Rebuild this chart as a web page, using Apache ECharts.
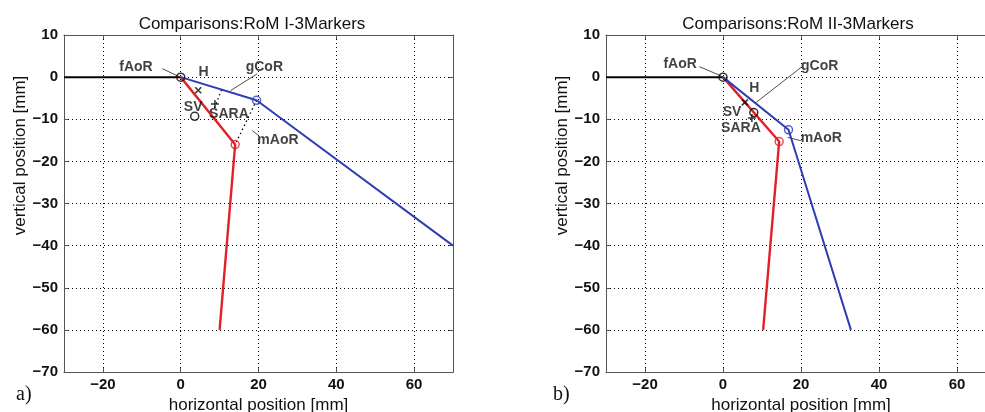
<!DOCTYPE html>
<html>
<head>
<meta charset="utf-8">
<script src="https://cdn.jsdelivr.net/npm/echarts@6/dist/echarts.min.js"></script>
<style>
html, body { margin: 0; padding: 0; background: #fff; }
#chart { width: 985px; height: 412px; }
</style>
</head>
<body>
<div id="chart"></div>
<script>
// axis ranges and ticks
const xRange = [-30, 70];
const yRange = [-70, 10];
const xTicks = [-20, 0, 20, 40, 60];
const titles = ['Comparisons:RoM I-3Markers', 'Comparisons:RoM II-3Markers'];
const panelTags = ['a)', 'b)'];

// panel a) RoM I
const baseA = [[-30, 0], [0, 0]];
const blueA = [[0, 0], [19.5, -5.5], [70, -40]];
const redA = [[0, 0], [14, -16], [10, -60]];
const dottedA = [[[10.5, -3], [8.6, -7.5]], [[19.5, -5.5], [14, -16]]];
const hA = [[4.5, -3.1]];
const svA = [[3.6, -9.3]];
const saraA = [[8.8, -6.4]];
const labelNames = ['fAoR', 'H', 'gCoR', 'SV', 'SARA', 'mAoR'];
const labelPosA = [[-11.5, 2.3], [5.9, 1.1], [21.5, 2.3], [3.2, -7.2], [12.4, -8.8], [25, -14.9]];
const leadersA = [[[-4.7, 2], [-0.6, 0.2]], [[19.7, 0.8], [12.8, -3.2]], [[20.1, -13.9], [18.4, -12.7]]];

// panel b) RoM II
const baseB = [[-30, 0], [0, 0]];
const blueB = [[0, 0], [16.8, -12.5], [32.8, -60]];
const redB = [[0, 0], [14.4, -15.3], [10.3, -60]];
const dottedB = [];
const hB = [[5.6, -6]];
const svB = [[7.9, -8.4]];
const saraB = [[7.4, -9.7]];
const labelPosB = [[-11, 3.2], [8, -2.7], [24.8, 2.7], [2.3, -8.4], [4.6, -12], [25.2, -14.6]];
const leadersB = [[[-6.1, 2.5], [-0.5, 0.3]], [[20, 2.3], [8.5, -6]], [[20, -15.1], [16.6, -14.3]]];

const panels = [
    { base: baseA, blue: blueA, red: redA, dotted: dottedA, h: hA, sv: svA, sara: saraA, labels: labelPosA, leaders: leadersA },
    { base: baseB, blue: blueB, red: redB, dotted: dottedB, h: hB, sv: svB, sara: saraB, labels: labelPosB, leaders: leadersB },
];

const BLUE = '#2f3db5';
const RED = '#e02228';
const FONT = 'Arial, "Liberation Sans", sans-serif';

// second panel runs past the right edge of the picture, as in the source figure
const grids = [
    { left: 64, top: 35, width: 389, height: 337, outerBoundsMode: 'none' },
    { left: 606, top: 35, width: 390, height: 337, outerBoundsMode: 'none' },
];

const minus = (v) => String(v).replace('-', '\u2212');

const xAxes = [];
const yAxes = [];
const series = [];

grids.forEach((g, i) => {
    const frame = { show: true, onZero: false, lineStyle: { color: '#555', width: 1 } };
    const tickFont = { color: '#111', fontSize: 15, fontWeight: 'bold', fontFamily: FONT };
    const nameFont = { color: '#111', fontSize: 17, fontFamily: FONT };
    xAxes.push({
        type: 'value', gridIndex: i, min: xRange[0], max: xRange[1], position: 'bottom',
        axisLine: frame,
        axisTick: { show: true, inside: true, length: 4, customValues: xTicks, lineStyle: { color: '#555' } },
        axisLabel: { customValues: xTicks, formatter: minus, margin: 5, ...tickFont },
        splitLine: { show: true, lineStyle: { type: [1, 3], color: '#000', width: 1 } },
        name: 'horizontal position [mm]', nameLocation: 'middle', nameGap: 21,
        nameTextStyle: nameFont,
    });
    xAxes.push({
        type: 'value', gridIndex: i, min: xRange[0], max: xRange[1], position: 'top',
        axisLine: frame,
        axisTick: { show: true, inside: true, length: 4, customValues: xTicks, lineStyle: { color: '#555' } },
        axisLabel: { show: false }, splitLine: { show: false },
    });
    yAxes.push({
        type: 'value', gridIndex: i, min: yRange[0], max: yRange[1], interval: 10, position: 'left',
        axisLine: frame,
        axisTick: { show: true, inside: true, length: 4, lineStyle: { color: '#555' } },
        axisLabel: { formatter: minus, margin: 6, ...tickFont },
        splitLine: { show: true, lineStyle: { type: [1, 3], color: '#000', width: 1 } },
        name: 'vertical position [mm]', nameLocation: 'middle', nameGap: 34,
        // the label sits above the middle of the axis in the source
        nameTextStyle: { ...nameFont, padding: [0, 0, 0, 96] },
    });
    yAxes.push({
        type: 'value', gridIndex: i, min: yRange[0], max: yRange[1], interval: 10, position: 'right',
        axisLine: frame,
        axisTick: { show: true, inside: true, length: 4, lineStyle: { color: '#555' } },
        axisLabel: { show: false }, splitLine: { show: false },
    });

    const p = panels[i];
    const ax = { xAxisIndex: 2 * i, yAxisIndex: 2 * i };
    const line = (data, color, width, type) => ({
        type: 'line', ...ax, data, symbol: 'none', silent: true, animation: false,
        lineStyle: { color, width, type: type || 'solid' }, z: 3,
    });

    p.dotted.forEach((seg) => series.push(line(seg, '#000', 1.3, [1.5, 3])));
    p.leaders.forEach((seg) => series.push(line(seg, '#222', 0.8)));
    series.push(line(p.base, '#000', 2));
    series.push(line(p.red, RED, 2.4));
    series.push(line(p.blue, BLUE, 2));

    const ring = (data, color) => ({
        type: 'scatter', ...ax, data, symbol: 'circle', symbolSize: 8, animation: false, z: 5,
        itemStyle: { color: 'rgba(0,0,0,0)', borderColor: color, borderWidth: 1.5 },
    });
    series.push(ring([p.blue[1]], BLUE));
    series.push(ring([p.red[1]], RED));
    series.push(ring([p.base[1]], '#000'));
    series.push(ring(p.sv, '#000'));
    series.push({
        type: 'scatter', ...ax, data: p.h, symbol: 'path://M0,0L10,10M10,0L0,10', symbolSize: 6,
        animation: false, z: 5, itemStyle: { color: 'none', borderColor: '#000', borderWidth: 1.5 },
    });
    series.push({
        type: 'scatter', ...ax, data: p.sara, symbol: 'path://M5,0L5,10M0,5L10,5', symbolSize: 8,
        animation: false, z: 5, itemStyle: { color: 'none', borderColor: '#000', borderWidth: 1.5 },
    });
    series.push({
        type: 'scatter', ...ax, symbolSize: 0, animation: false, z: 6,
        data: labelNames.map((n, k) => ({ name: n, value: p.labels[k] })),
        label: {
            show: true, position: 'inside', formatter: '{b}', color: '#111',
            fontSize: 14, fontWeight: 'bold', fontFamily: FONT,
        },
    });
});

const titleFont = { fontSize: 17, fontWeight: 'normal', color: '#111', fontFamily: FONT };
const chart = echarts.init(document.getElementById('chart'));
chart.setOption({
    animation: false,
    title: [
        { text: titles[0], left: 247, top: 11, textAlign: 'center', textStyle: titleFont },
        { text: titles[1], left: 793, top: 11, textAlign: 'center', textStyle: titleFont },
    ],
    grid: grids,
    xAxis: xAxes,
    yAxis: yAxes,
    series,
    graphic: [
        { type: 'text', left: 16, top: 385, style: { text: panelTags[0], font: '20px "Liberation Serif", "DejaVu Serif", serif', fill: '#111' } },
        { type: 'text', left: 553, top: 385, style: { text: panelTags[1], font: '20px "Liberation Serif", "DejaVu Serif", serif', fill: '#111' } },
    ],
});
</script>
</body>
</html>
